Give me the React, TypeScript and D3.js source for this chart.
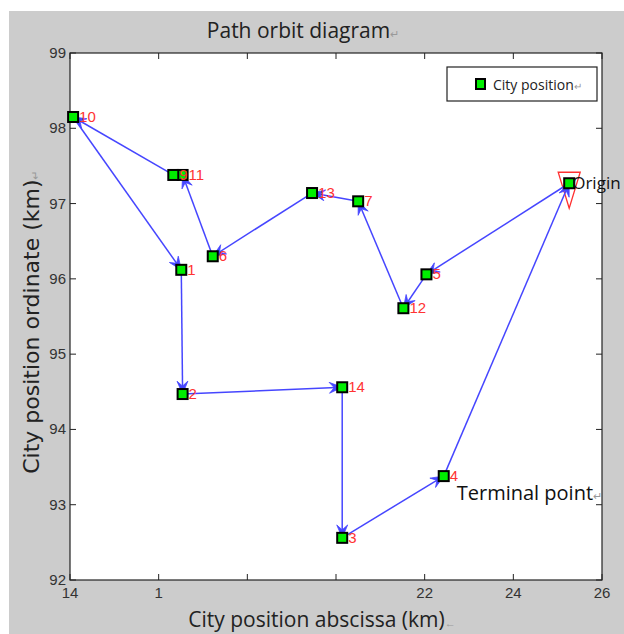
import React from 'react';
import * as d3 from 'd3';

// path order, starting and ending at the origin
const pathLabels = ['', '5', '12', '7', '13', '6', '11', '9', '10', '1', '2', '14', '3', '4'];
const pathX = [25.26, 22.04, 21.52, 20.5, 19.46, 17.22, 16.54, 16.33, 14.07, 16.51, 16.54, 20.14, 20.14, 22.43];
const pathY = [97.27, 96.06, 95.61, 97.03, 97.14, 96.3, 97.38, 97.38, 98.15, 96.12, 94.47, 94.56, 92.56, 93.38];

const xTicks = [14, 16, 18, 20, 22, 24, 26];
const xTickLabels = ['14', '1', '', '', '22', '24', '26'];
const yTicks = [92, 93, 94, 95, 96, 97, 98, 99];

const W = 624;
const H = 634;
const left = 70, right = 602, top = 53, bottom = 580;

const x = d3.scaleLinear().domain([14, 26]).range([left, right]);
const y = d3.scaleLinear().domain([92, 99]).range([bottom, top]);

const blue = 'rgb(70,70,255)';
const tickFont = '"Liberation Sans", Arial, sans-serif';
const labelFont = '"Open Sans", sans-serif';

function arrowHead(x1: number, y1: number, x2: number, y2: number) {
  const a = Math.atan2(y2 - y1, x2 - x1);
  const len = 14, spread = 0.4, back = 8;
  const p1 = [x2 - len * Math.cos(a - spread), y2 - len * Math.sin(a - spread)];
  const p2 = [x2 - back * Math.cos(a), y2 - back * Math.sin(a)];
  const p3 = [x2 - len * Math.cos(a + spread), y2 - len * Math.sin(a + spread)];
  return `M${x2},${y2}L${p1[0]},${p1[1]}L${p2[0]},${p2[1]}L${p3[0]},${p3[1]}Z`;
}

export default function App() {
  const pts = pathX.map((v, i) => ({ px: x(v), py: y(pathY[i]), label: pathLabels[i] }));
  const segs = pts.map((p, i) => [p, pts[(i + 1) % pts.length]]);
  const origin = pts[0];
  const terminal = pts[pts.length - 1];

  return (
    <svg width={W} height={H} style={{ position: 'absolute', left: 0, top: 0, background: '#fff' }}>
      <rect x={9} y={11} width={W - 9} height={H - 11} fill="#cccccc" />
      <rect x={left} y={top} width={right - left} height={bottom - top} fill="#fff" stroke="#222" strokeWidth={1.2} />

      {/* ticks */}
      {xTicks.map((t, i) => (
        <g key={'x' + t}>
          <line x1={x(t)} x2={x(t)} y1={bottom} y2={bottom - 6} stroke="#222" />
          <line x1={x(t)} x2={x(t)} y1={top} y2={top + 6} stroke="#222" />
          <text x={x(t)} y={bottom + 18} textAnchor="middle" fontFamily={tickFont} fontSize={15} fill="#333">
            {xTickLabels[i]}
          </text>
        </g>
      ))}
      {yTicks.map(t => (
        <g key={'y' + t}>
          <line x1={left} x2={left + 6} y1={y(t)} y2={y(t)} stroke="#222" />
          <line x1={right} x2={right - 6} y1={y(t)} y2={y(t)} stroke="#222" />
          <text x={left - 4} y={y(t) + 5} textAnchor="end" fontFamily={tickFont} fontSize={15} fill="#333">
            {t}
          </text>
        </g>
      ))}

      {/* title and axis labels */}
      <text x={303} y={38} textAnchor="middle" fontFamily={labelFont} fontSize={21} fill="#222">
        Path orbit diagram<tspan fontSize={11} fill="#999">↵</tspan>
      </text>
      <text x={322} y={627} textAnchor="middle" fontFamily={labelFont} fontSize={21} fill="#222">
        City position abscissa (km)<tspan fontSize={11} fill="#999">←</tspan>
      </text>
      <text transform="translate(39,322) rotate(-90)" textAnchor="middle" fontFamily='"DejaVu Sans", sans-serif' fontSize={22} fill="#222">
        City position ordinate (km)<tspan fontSize={11} fill="#999">↵</tspan>
      </text>

      {/* origin triangle */}
      <path
        d={`M${origin.px - 11},${origin.py - 11}L${origin.px + 11},${origin.py - 11}L${origin.px},${origin.py + 25}Z`}
        fill="none" stroke="#ff3030" strokeWidth={1.3}
      />

      {/* path with arrows */}
      {segs.map(([a, b], i) => (
        <g key={'s' + i}>
          <line x1={a.px} y1={a.py} x2={b.px} y2={b.py} stroke={blue} strokeWidth={1.5} />
          <path d={arrowHead(a.px, a.py, b.px, b.py)} fill={blue} stroke={blue} strokeWidth={0.8} />
        </g>
      ))}

      {/* city markers */}
      {pts.map((p, i) => (
        <rect key={'m' + i} x={p.px - 5} y={p.py - 5} width={10} height={10} fill="#00ee00" stroke="#000" strokeWidth={2} />
      ))}
      {pts.map((p, i) => (
        <text key={'l' + i} x={p.px + 6} y={p.py + 5} fontFamily={tickFont} fontSize={15} fill="#ff3333">
          {p.label}
        </text>
      ))}

      <text x={origin.px + 3} y={origin.py + 6} fontFamily={labelFont} fontSize={17} fill="#111">Origin</text>
      <text x={terminal.px + 13} y={terminal.py + 24} fontFamily={labelFont} fontSize={20} fill="#111">
        Terminal point<tspan fontSize={11} fill="#999">↵</tspan>
      </text>

      {/* legend */}
      <rect x={447} y={67} width={150} height={34} fill="#fff" stroke="#222" strokeWidth={1.2} />
      <rect x={476} y={79} width={9} height={10} fill="#00ee00" stroke="#000" strokeWidth={2} />
      <text x={493} y={90} fontFamily={labelFont} fontSize={14} fill="#222">
        City position<tspan fontSize={10} fill="#999">↵</tspan>
      </text>
    </svg>
  );
}
